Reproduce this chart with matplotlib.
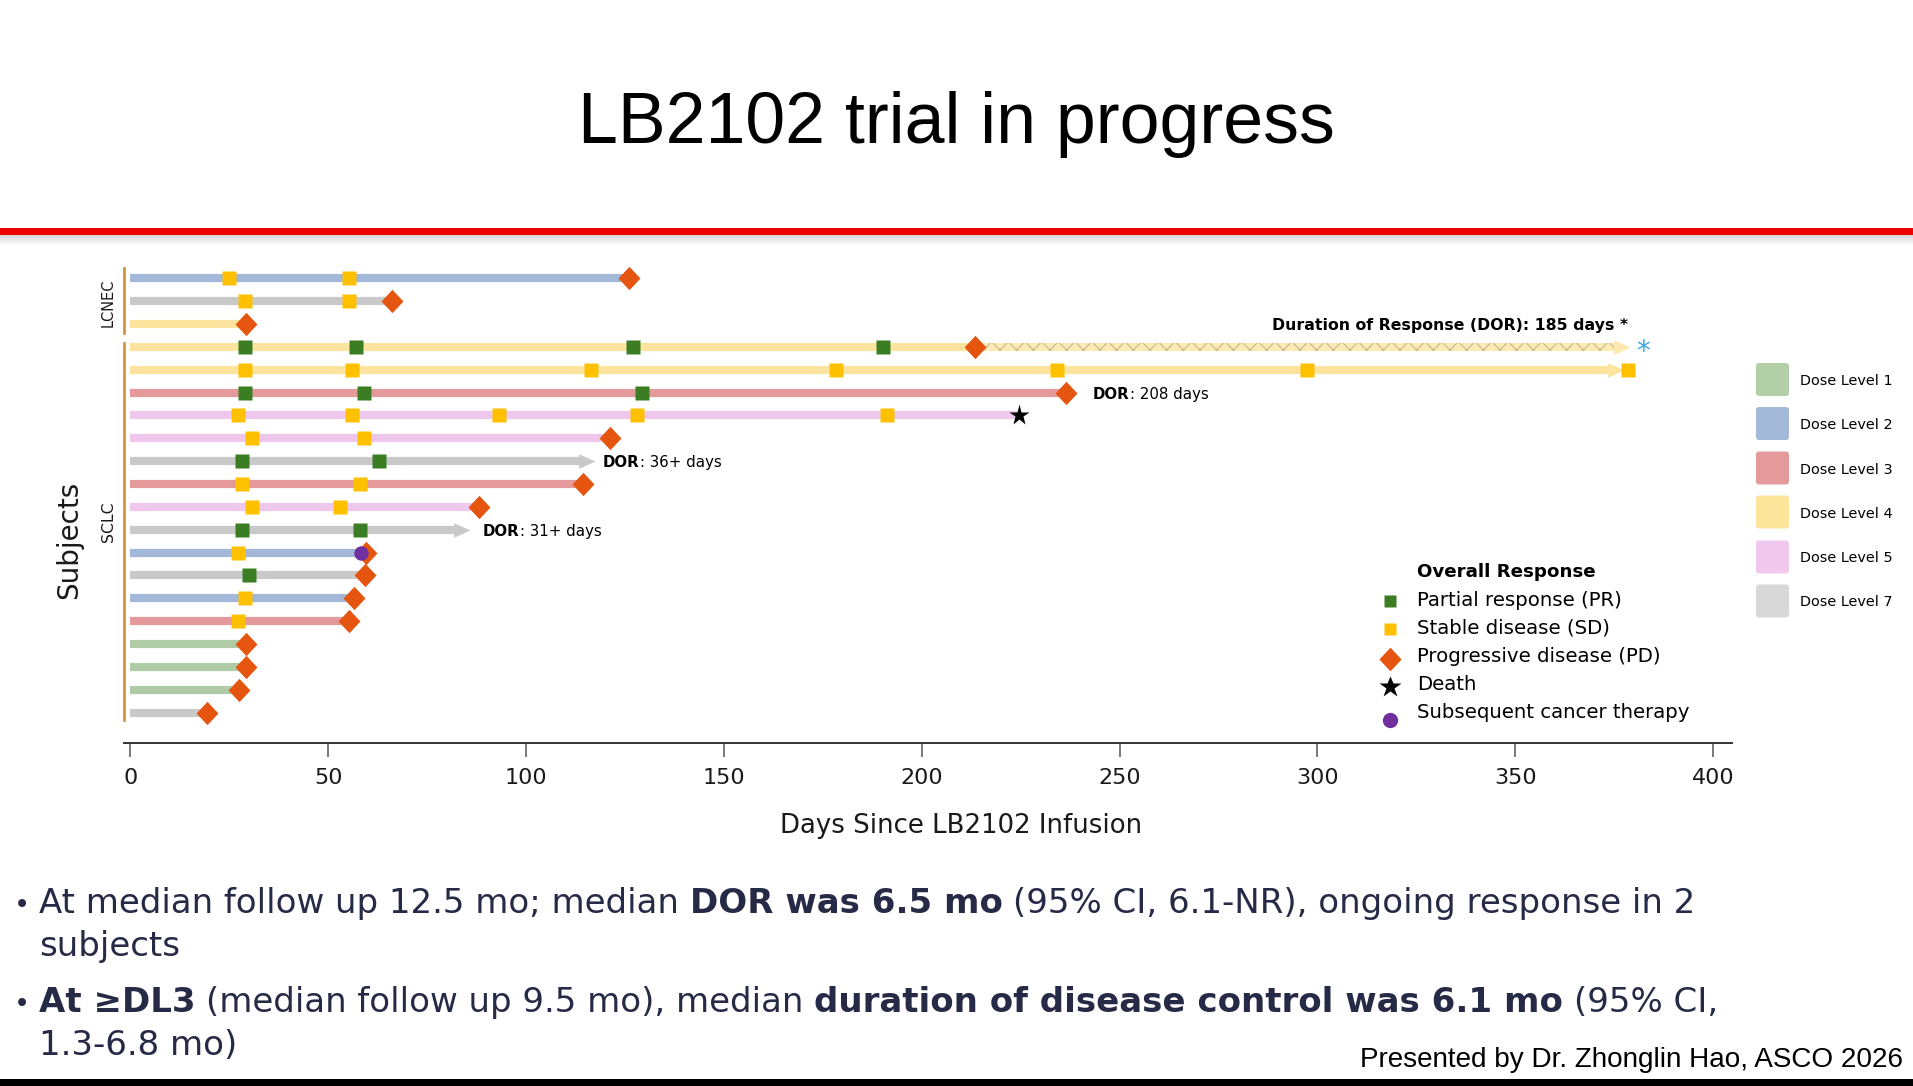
import numpy as np
import matplotlib
matplotlib.use("Agg")
import matplotlib.pyplot as plt
from matplotlib.lines import Line2D
from matplotlib.patches import Rectangle, FancyBboxPatch
from matplotlib.path import Path
from matplotlib.transforms import IdentityTransform

# ---------------- data ----------------
cohort_names = ["LCNEC", "SCLC"]
cohort_first_row = [0, 3]
cohort_last_row = [2, 19]

dose_levels = [2, 7, 4, 4, 4, 3, 5, 5, 7, 3, 5, 7, 2, 7, 2, 3, 1, 1, 1, 7]
last_day = [126.1, 66.0, 29.3, 213.4, 377.6, 236.5, 224.5, 121.2, 117.5, 114.4,
            88.2, 85.7, 59.5, 59.2, 56.4, 55.2, 29.3, 29.3, 27.4, 19.4]
ongoing_rows = [4, 8, 11]
extension_rows = [3]
extension_start = [213.4]
extension_end = [378.9]

pr_rows = [3, 3, 3, 3, 5, 5, 5, 8, 8, 11, 11, 13]
pr_days = [29.0, 57.1, 127.1, 190.3, 29.0, 58.9, 129.2, 28.1, 62.9, 28.1, 58.0, 29.9]

sd_rows = [0, 0, 1, 1, 4, 4, 4, 4, 4, 4, 4, 6, 6, 6, 6, 6, 7, 7, 9, 9, 10, 10, 12, 14, 15]
sd_days = [25.0, 55.2, 29.0, 55.2, 29.0, 56.1, 116.3, 178.3, 234.1, 297.3, 378.4,
           27.1, 56.1, 93.1, 128.0, 191.2, 30.8, 58.9, 28.1, 58.0, 30.8, 53.0, 27.1, 29.0, 27.1]

pd_rows = [0, 1, 2, 3, 5, 7, 9, 10, 12, 13, 14, 15, 16, 17, 18, 19]
pd_days = [126.1, 66.0, 29.3, 213.4, 236.5, 121.2, 114.4, 88.2, 59.5, 59.2, 56.4,
           55.2, 29.3, 29.3, 27.4, 19.4]

death_rows = [6]
death_days = [224.5]
sct_rows = [12]
sct_days = [58.3]

dor_label_rows = [5, 8, 11]
dor_label_days = [243.3, 119.4, 89.1]
dor_label_values = [": 208 days", ": 36+ days", ": 31+ days"]
main_dor_text = "Duration of Response (DOR): 185 days *"

x_ticks = [0, 50, 100, 150, 200, 250, 300, 350, 400]
x_label = "Days Since LB2102 Infusion"
y_label = "Subjects"

dose_legend_levels = [1, 2, 3, 4, 5, 7]
dose_legend_labels = ["Dose Level 1", "Dose Level 2", "Dose Level 3",
                      "Dose Level 4", "Dose Level 5", "Dose Level 7"]
response_title = "Overall Response"
response_labels = ["Partial response (PR)", "Stable disease (SD)",
                   "Progressive disease (PD)", "Death", "Subsequent cancer therapy"]

title = "LB2102 trial in progress"
credit = "Presented by Dr. Zhonglin Hao, ASCO 2026"
bullet_lines = [
    [("At median follow up 12.5 mo; median ", "normal"), ("DOR was 6.5 mo", "bold"),
     (" (95% CI, 6.1-NR), ongoing response in 2", "normal")],
    [("subjects", "normal")],
    [("At \u2265DL3", "bold"), (" (median follow up 9.5 mo), median ", "normal"),
     ("duration of disease control was 6.1 mo", "bold"), (" (95% CI,", "normal")],
    [("1.3-6.8 mo)", "normal")],
]
bullet_first = [True, False, True, False]

# ---------------- styles ----------------
dose_colors = {1: "#b0cca6", 2: "#a3b7d9", 3: "#e49a9b", 4: "#fde49e",
               5: "#efc6ec", 7: "#c9c9c9"}
dose_legend_colors = {1: "#b2cfa7", 2: "#a4b8da", 3: "#e59b9c", 4: "#fde59c",
                      5: "#f1c8ee", 7: "#d8d8d8"}
PR_C = "#3a7d22"
SD_C = "#ffc000"
PD_C = "#e5550f"
DEATH_C = "#000000"
SCT_C = "#7030a0"
BRACKET_C = "#d0903a"
TXT = "#262a46"
FAM = ["DejaVu Sans"]
ARIAL = ["Liberation Sans", "DejaVu Sans"]
plt.rcParams["hatch.linewidth"] = 0.8

W, H = 1913, 1086
fig = plt.figure(figsize=(W / 100, H / 100), dpi=100)
fig.patch.set_facecolor("white")
R = fig.canvas.get_renderer()
ID = IdentityTransform()


def fx(px):
    return px / W


def fy(py):
    return 1 - py / H


def fit(t, target, use_height=False):
    bb = t.get_window_extent(R)
    cur = bb.height if use_height else bb.width
    t.set_fontsize(t.get_fontsize() * target / cur)


def space_w(size, weight, family):
    a = fig.text(0, 0, "x x", fontsize=size, fontweight=weight, family=family)
    b = fig.text(0, 0, "xx", fontsize=size, fontweight=weight, family=family)
    d = a.get_window_extent(R).width - b.get_window_extent(R).width
    a.remove()
    b.remove()
    return d


def rich(x_px, y_px, segs, size, color, family, va="baseline"):
    texts = []
    x = x_px
    for s, wgt in segs:
        lead = len(s) - len(s.lstrip(" "))
        trail = len(s) - len(s.rstrip(" "))
        core = s.strip(" ")
        sw = space_w(size, wgt, family)
        x += lead * sw
        t = fig.text(x, y_px, core, transform=ID, fontsize=size, fontweight=wgt,
                     color=color, family=family, va=va, ha="left")
        x = t.get_window_extent(R).x1 + trail * sw
        texts.append(t)
    return texts, x - x_px


# ---------------- header / footer ----------------
t = fig.text(fx(956), fy(143), title, ha="center", va="baseline", fontsize=50,
             family=ARIAL, color="black")
fit(t, 758)
fig.add_artist(Rectangle((0, fy(235)), 1, 7 / H, transform=fig.transFigure,
                         facecolor="#ec0000", edgecolor="none"))
for k in range(10):
    fig.add_artist(Rectangle((0, fy(236 + k)), 1, 1 / H, transform=fig.transFigure,
                             facecolor="#808080", alpha=0.30 * (1 - k / 10),
                             edgecolor="none"))
fig.add_artist(Rectangle((0, 0), 1, 7 / H, transform=fig.transFigure,
                         facecolor="black", edgecolor="none"))
t = fig.text(fx(1903), fy(1067), credit, ha="right", va="baseline", fontsize=20,
             family=ARIAL, color="black")
fit(t, 543)

# ---------------- main axes ----------------
ax_left, ax_right, ax_top, ax_bottom = 124.4, 1732.4, 262.3, 743.0
ax = fig.add_axes([fx(ax_left), fy(ax_bottom), (ax_right - ax_left) / W,
                   (ax_bottom - ax_top) / H])
ax.set_xlim(-1.54, 404.9)
ax.set_ylim(20.33, -0.695)
for sp in ["top", "left", "right"]:
    ax.spines[sp].set_visible(False)
ax.spines["bottom"].set_color("#333333")
ax.spines["bottom"].set_linewidth(1.4)
ax.set_yticks([])
ax.set_xticks(x_ticks)
ax.set_xticklabels([str(v) for v in x_ticks])
ax.tick_params(axis="x", length=10, width=1.1, color="#555555", pad=8,
               labelsize=16, labelcolor="#1a1a1a")
for lab in ax.get_xticklabels():
    lab.set_family(FAM)
ax.set_facecolor("none")

BAR_LW = 5.9
n_rows = len(dose_levels)
for r in range(n_rows):
    end = last_day[r]
    if r in ongoing_rows:
        end = end - 3.0
    ax.plot([0, end], [r, r], color=dose_colors[dose_levels[r]], lw=BAR_LW,
            solid_capstyle="butt", zorder=1)

arrow_path = Path([(-1.12, 0.5), (0, 0), (-1.12, -0.5), (-1.12, 0.5)],
                  [Path.MOVETO, Path.LINETO, Path.LINETO, Path.CLOSEPOLY])
for r in ongoing_rows:
    ax.plot([last_day[r]], [r], ls="none", marker=arrow_path, ms=23.5,
            color=dose_colors[dose_levels[r]], mec="none", zorder=1)

bar_h = 8.4 / 22.86
for r, x0, x1 in zip(extension_rows, extension_start, extension_end):
    ax.add_patch(Rectangle((x0, r - bar_h / 2), (x1 - 3.0) - x0, bar_h,
                           facecolor="#fdebb6", edgecolor="#c9b68f", hatch="xx",
                           linewidth=0, zorder=1))
    ax.plot([x1], [r], ls="none", marker=arrow_path, ms=23.5, color="#fde8b0",
            mec="none", zorder=1)
    ax.text(x1 + 3.5, r + 0.25, "*", color="#3fa9e0", ha="center", va="center",
            fontsize=20, family=FAM, zorder=5)

diamond = Path([(0, 0.5), (0.47, 0), (0, -0.5), (-0.47, 0), (0, 0.5)],
               [Path.MOVETO, Path.LINETO, Path.LINETO, Path.LINETO, Path.CLOSEPOLY])
ax.plot(pr_days, pr_rows, ls="none", marker="s", ms=9.6, color=PR_C, mec="none", zorder=3)
ax.plot(sd_days, sd_rows, ls="none", marker="s", ms=9.6, color=SD_C, mec="none", zorder=3)
ax.plot(pd_days, pd_rows, ls="none", marker=diamond, ms=16.8, color=PD_C, mec="none", zorder=4)
ax.plot(death_days, death_rows, ls="none", marker="*", ms=15.5, color=DEATH_C, mec="none", zorder=4)
ax.plot(sct_days, sct_rows, ls="none", marker="o", ms=10.4, color=SCT_C, mec="none", zorder=5)

# DOR labels
dor_size = 11
tmp, wdt = rich(0, 0, [("DOR", "bold"), (dor_label_values[0], "normal")], dor_size, "black", FAM)
for tt in tmp:
    tt.remove()
dor_size = dor_size * 115 / wdt
for r, d, v in zip(dor_label_rows, dor_label_days, dor_label_values):
    px, py = ax.transData.transform((d, r))
    rich(px, py, [("DOR", "bold"), (v, "normal")], dor_size, "black", FAM, va="center_baseline")
px, py = ax.transData.transform((378.5, 2))
t = fig.text(px, py, main_dor_text, transform=ID, ha="right", va="center_baseline",
             fontsize=12, fontweight="bold", family=FAM, color="black")
fit(t, 354)

# axis labels
ax.set_xlabel(x_label, family=FAM, fontsize=17, color="#1a1a1a")
ax.xaxis.set_label_coords((961 - ax_left) / (ax_right - ax_left),
                          -(826 - ax_bottom) / (ax_bottom - ax_top))
ax.xaxis.label.set_va("center")
fit(ax.xaxis.label, 362)
ax.set_ylabel(y_label, family=FAM, fontsize=20, color="#1a1a1a")
ax.yaxis.set_label_coords(-(ax_left - 69) / (ax_right - ax_left),
                          (ax_bottom - 540) / (ax_bottom - ax_top))
ax.yaxis.label.set_va("center")
fit(ax.yaxis.label, 118, use_height=True)

# cohort brackets
coh_label_y = [303, 522]
coh_label_h = [49, 41]
bracket_spans = [(268, 333), (343, 720)]
for name, ly, lh, (y0, y1) in zip(cohort_names, coh_label_y, coh_label_h, bracket_spans):
    fig.add_artist(Line2D([fx(124), fx(124)], [fy(y0), fy(y1)], transform=fig.transFigure,
                          color=BRACKET_C, lw=1.9))
    t = fig.text(fx(108), fy(ly), name, rotation=90, ha="center", va="center",
                 fontsize=10, family=FAM, color="#1a1a1a")
    fit(t, lh, use_height=True)

# ---------------- response legend ----------------
t = fig.text(1417, H - 570, response_title, transform=ID, ha="left", va="center_baseline",
             fontsize=13, fontweight="bold", family=FAM, color="black")
fit(t, 178)
leg_text_y = [598, 626, 654, 682, 710]
leg_mark_y = [601, 629, 659, 687, 720]
leg_markers = [("s", 9.3, PR_C), ("s", 9.3, SD_C), (diamond, 17.0, PD_C),
               ("*", 16.5, DEATH_C), ("o", 11.0, SCT_C)]
lab_size = None
for lab, ty, my, (mk, ms, mc) in zip(response_labels, leg_text_y, leg_mark_y, leg_markers):
    fig.add_artist(Line2D([1390], [H - my], transform=ID, ls="none", marker=mk, ms=ms,
                          color=mc, mec="none"))
    t = fig.text(1417, H - ty, lab, transform=ID, ha="left", va="center_baseline",
                 fontsize=13, family=FAM, color="black")
    if lab_size is None:
        fit(t, 206)
        lab_size = t.get_fontsize()
    else:
        t.set_fontsize(lab_size)

# ---------------- dose legend ----------------
dose_y = [379.5, 423.5, 468, 512, 557, 601]
dl_size = None
for lvl, lab, cy in zip(dose_legend_levels, dose_legend_labels, dose_y):
    fig.add_artist(FancyBboxPatch((1756, H - cy - 16.5), 33, 33, transform=ID,
                                  boxstyle="round,pad=0,rounding_size=3",
                                  facecolor=dose_legend_colors[lvl], edgecolor="none"))
    t = fig.text(1800, H - cy, lab, transform=ID, ha="left", va="center_baseline",
                 fontsize=10.5, family=FAM, color="black")
    if dl_size is None:
        fit(t, 93)
        dl_size = t.get_fontsize()
    else:
        t.set_fontsize(dl_size)

# ---------------- bullets ----------------
b_size = 26
tmp, wdt = rich(0, 0, bullet_lines[0], b_size, TXT, FAM)
for tt in tmp:
    tt.remove()
b_size = b_size * 1657 / wdt
baselines = [913, 956, 1012, 1055]
for segs, first, bl in zip(bullet_lines, bullet_first, baselines):
    if first:
        fig.text(14, H - bl, "\u2022", transform=ID, ha="left", va="baseline",
                 fontsize=b_size * 0.8, family=FAM, color=TXT)
    rich(39, H - bl, segs, b_size, TXT, FAM)

fig.savefig("out.png", dpi=100, facecolor="white")
